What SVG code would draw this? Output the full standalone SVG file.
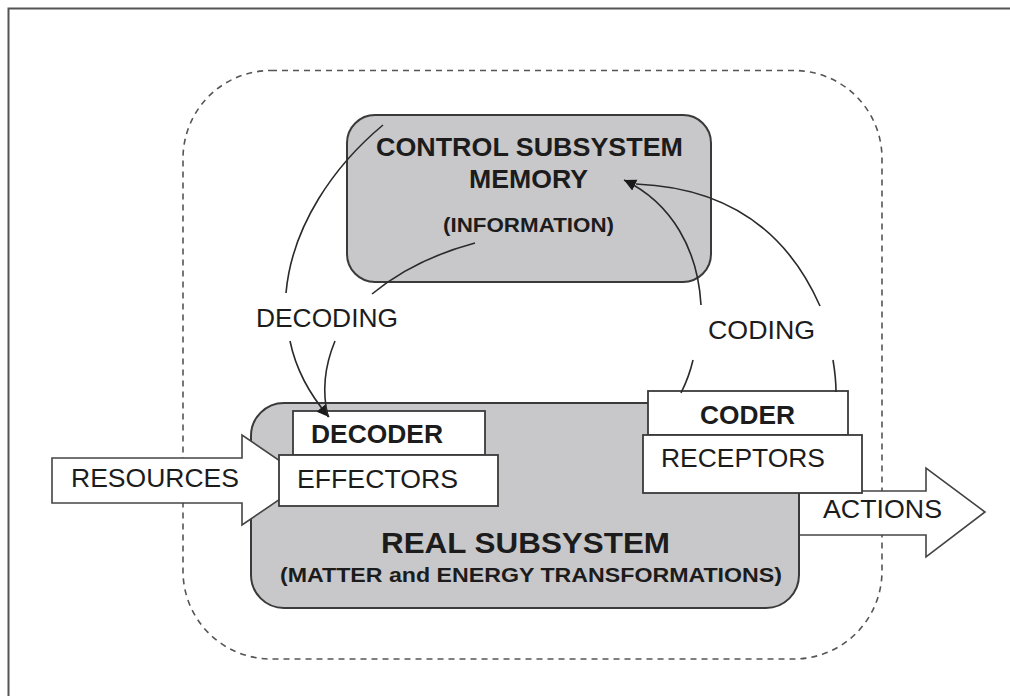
<svg xmlns="http://www.w3.org/2000/svg" width="1010" height="696" viewBox="0 0 1010 696">
  <style>
    .t { font-family: "Liberation Sans", Arial, sans-serif; fill: #1c1c1c; }
    .b { font-weight: bold; }
    .sub { fill: #c8c8ca; stroke: #3a3a3a; stroke-width: 2; }
    .box { fill: #ffffff; stroke: #3a3a3a; stroke-width: 1.8; }
    .flow { fill: #ffffff; stroke: #444; stroke-width: 1.6; }
    .arc { fill: none; stroke: #2a2a2a; stroke-width: 1.6; }
  </style>
  <defs>
    <marker id="head" markerUnits="userSpaceOnUse" markerWidth="14" markerHeight="14" refX="12" refY="6" orient="auto">
      <path d="M0,0 L12,6 L0,12 z" fill="#1a1a1a"/>
    </marker>
  </defs>
  <rect width="1010" height="696" fill="#ffffff"/>

  <!-- page frame -->
  <path d="M8.5,696 V8.5 H1010" fill="none" stroke="#555" stroke-width="2"/>

  <!-- system boundary -->
  <rect id="boundary" x="183" y="70.5" width="699" height="588.5" rx="88" fill="none" stroke="#555" stroke-width="1.6" stroke-dasharray="6 5"/>

  <!-- output flow -->
  <g id="actions">
    <polygon class="flow" points="790,491 926,491 926,468 985,512 926,557 926,535 790,535"/>
    <text class="t" x="823" y="518" font-size="26" textLength="119" lengthAdjust="spacingAndGlyphs">ACTIONS</text>
  </g>

  <!-- real subsystem -->
  <g id="real-subsystem">
    <rect class="sub" x="251" y="403" width="548" height="205" rx="33"/>
    <text class="t b" x="381" y="553" font-size="30" textLength="289" lengthAdjust="spacingAndGlyphs">REAL SUBSYSTEM</text>
    <text class="t b" x="280" y="582" font-size="21" textLength="502" lengthAdjust="spacingAndGlyphs">(MATTER and ENERGY TRANSFORMATIONS)</text>
  </g>

  <!-- input flow -->
  <g id="resources">
    <polygon class="flow" points="52,458 242,458 242,435 308,480 242,525 242,503 52,503"/>
    <text class="t" x="71" y="487" font-size="26" textLength="168" lengthAdjust="spacingAndGlyphs">RESOURCES</text>
  </g>

  <g id="decoder">
    <rect class="box" x="293" y="411" width="192" height="44"/>
    <text class="t b" x="311" y="443" font-size="26" textLength="132" lengthAdjust="spacingAndGlyphs">DECODER</text>
  </g>
  <g id="effectors">
    <rect class="box" x="279" y="455" width="219" height="51"/>
    <text class="t" x="297" y="488" font-size="26" textLength="161" lengthAdjust="spacingAndGlyphs">EFFECTORS</text>
  </g>

  <g id="coder">
    <rect class="box" x="648" y="391" width="200" height="44"/>
    <text class="t b" x="700" y="424" font-size="26" textLength="95" lengthAdjust="spacingAndGlyphs">CODER</text>
  </g>
  <g id="receptors">
    <rect class="box" x="643" y="435" width="219" height="58"/>
    <text class="t" x="661" y="467" font-size="26" textLength="164" lengthAdjust="spacingAndGlyphs">RECEPTORS</text>
  </g>

  <!-- control subsystem -->
  <g id="control-subsystem">
    <rect class="sub" x="347" y="115" width="364" height="167" rx="28"/>
    <text class="t b" x="376" y="156" font-size="26" textLength="307" lengthAdjust="spacingAndGlyphs">CONTROL SUBSYSTEM</text>
    <text class="t b" x="469" y="188" font-size="26" textLength="119" lengthAdjust="spacingAndGlyphs">MEMORY</text>
    <text class="t b" x="443" y="232" font-size="21" textLength="171" lengthAdjust="spacingAndGlyphs">(INFORMATION)</text>
  </g>

  <!-- information links -->
  <g id="connectors">
    <path class="arc" d="M383,125 C335,165 292,225 286,293"/>
    <path class="arc" d="M290,341 C296,370 310,395 329,417" marker-end="url(#head)"/>
    <path class="arc" d="M475,243 C430,255 395,275 372,294"/>
    <path class="arc" d="M335,341 C325,365 322,392 328,417"/>

    <path class="arc" d="M701,305 C698,250 672,203 624,180" marker-end="url(#head)"/>
    <path class="arc" d="M693,360 C690,373 686,383 681,393"/>
    <path class="arc" d="M820,306 C790,238 735,188 636,184"/>
    <path class="arc" d="M833,360 C835,372 836,382 836,392"/>
  </g>

  <g id="labels">
    <text class="t" x="256" y="327" font-size="26" textLength="142" lengthAdjust="spacingAndGlyphs">DECODING</text>
    <text class="t" x="708" y="339" font-size="26" textLength="107" lengthAdjust="spacingAndGlyphs">CODING</text>
  </g>
</svg>
